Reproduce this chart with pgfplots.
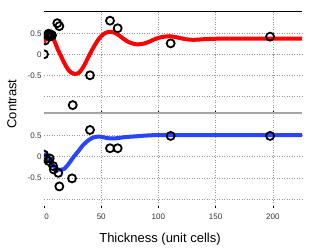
\documentclass[border=0pt]{standalone}
\usepackage{pgfplots}
\pgfplotsset{compat=1.18}
\usetikzlibrary{calc}
\usepackage{fontspec}
\setmainfont{Liberation Sans}
\definecolor{myred}{rgb}{1,0,0}
\definecolor{myblue}{rgb}{0.16,0.27,1}
\begin{document}
\begin{tikzpicture}
\pgfplotsset{
  panel/.style={
    scale only axis, width=258pt, xmin=0, xmax=225.5,
    axis line style={draw=none},
    clip marker paths=true,
    grid=major,
    major grid style={gray!80, line width=0.5pt, dash pattern=on 1pt off 1.5pt},
    ytick={-1,-0.5,0,0.5}, yticklabels={,-0.5,0,0.5},
    ytick style={draw=none},
    xtick style={black, line width=0.6pt},
    major tick length=2.5pt,
    tick label style={font=\fontsize{8}{8}\selectfont, text=black!80},
    yticklabel style={xshift=1pt},
    /pgf/number format/assume math mode=true,
  },
  curve/.style={line width=4pt, smooth, no marks},
  pts/.style={only marks, mark=o, mark size=4pt, line width=1.8pt, black},
}
% top panel
\begin{axis}[panel, name=top, height=102pt,
  ymin=-1.398, ymax=1.031,
  xtick={50,100,150,200}, xticklabels={}, xtick pos=bottom, xtick align=inside]
\addplot[curve, myred] coordinates {
(0,0.28) (2,0.42) (4,0.48) (6,0.46) (8,0.38) (10,0.26) (12,0.12) (15,-0.05)
(18,-0.22) (21,-0.36) (24,-0.44) (27,-0.47) (30,-0.45) (33,-0.36) (36,-0.22)
(40,0.0) (44,0.2) (48,0.37) (52,0.48) (56,0.53) (60,0.53) (64,0.48) (68,0.40)
(72,0.32) (76,0.27) (80,0.24) (84,0.24) (88,0.26) (92,0.30) (96,0.35) (100,0.39)
(105,0.42) (110,0.43) (115,0.41) (120,0.38) (125,0.355) (130,0.345) (135,0.35)
(140,0.36) (150,0.37) (160,0.375) (180,0.375) (200,0.375) (225.5,0.375)};
\addplot[pts] coordinates {
(0,0.0) (1,0.33) (3,0.45) (4,0.49) (5,0.42) (6,0.47) (7,0.45)
(11.6,0.74) (13.4,0.67) (25.1,-1.21) (40.2,-0.5) (57.7,0.80) (64.4,0.62)
(110.7,0.26) (197.6,0.42)};
\draw[black, line width=0.9pt] (rel axis cs:0,1) -- (rel axis cs:1,1);
\draw[gray!70, line width=1.4pt] (rel axis cs:0,0) -- (rel axis cs:1,0);
\end{axis}
% bottom panel
\begin{axis}[panel, name=bot, at={(top.south west)}, anchor=north west, height=95pt,
  ymin=-1.208, ymax=1.03,
  xtick={50,100,150,200}, extra x ticks={0}, extra x tick style={grid=none, xticklabel style={xshift=2.5pt}},
  xticklabels={50,100,150,200}, extra x tick labels={0},
  xtick pos=bottom, xtick align=inside,
  xticklabel style={yshift=-2pt}]
\addplot[curve, myblue] coordinates {
(0,0.08) (3,0.0) (6,-0.12) (9,-0.24) (12,-0.30) (15,-0.31) (18,-0.28) (22,-0.15)
(26,0.0) (30,0.13) (34,0.27) (38,0.37) (42,0.44) (46,0.47) (50,0.47) (55,0.44)
(60,0.43) (65,0.44) (70,0.46) (80,0.48) (90,0.50) (100,0.51) (120,0.51) (225.5,0.51)};
\addplot[pts] coordinates {
(0,0.05) (2,-0.05) (4,-0.1) (5,-0.04) (8,-0.22) (8.5,-0.3) (12.5,-0.38)
(13.4,-0.70) (24.5,-0.51) (40.2,0.63) (57.7,0.2) (64.4,0.2) (110.7,0.49) (197.6,0.49)};
\end{axis}
\node[rotate=90, font=\fontsize{13}{13}\selectfont] at ($(top.south west)+(-32pt,9pt)$) {Contrast};
\node[font=\fontsize{13}{13}\selectfont] at ($(bot.south west)+(116pt,-31pt)$) {Thickness (unit cells)};
\path ($(top.north east)+(10pt,11pt)$) ($(bot.south west)+(-44pt,-39pt)$);
\end{tikzpicture}
\end{document}
